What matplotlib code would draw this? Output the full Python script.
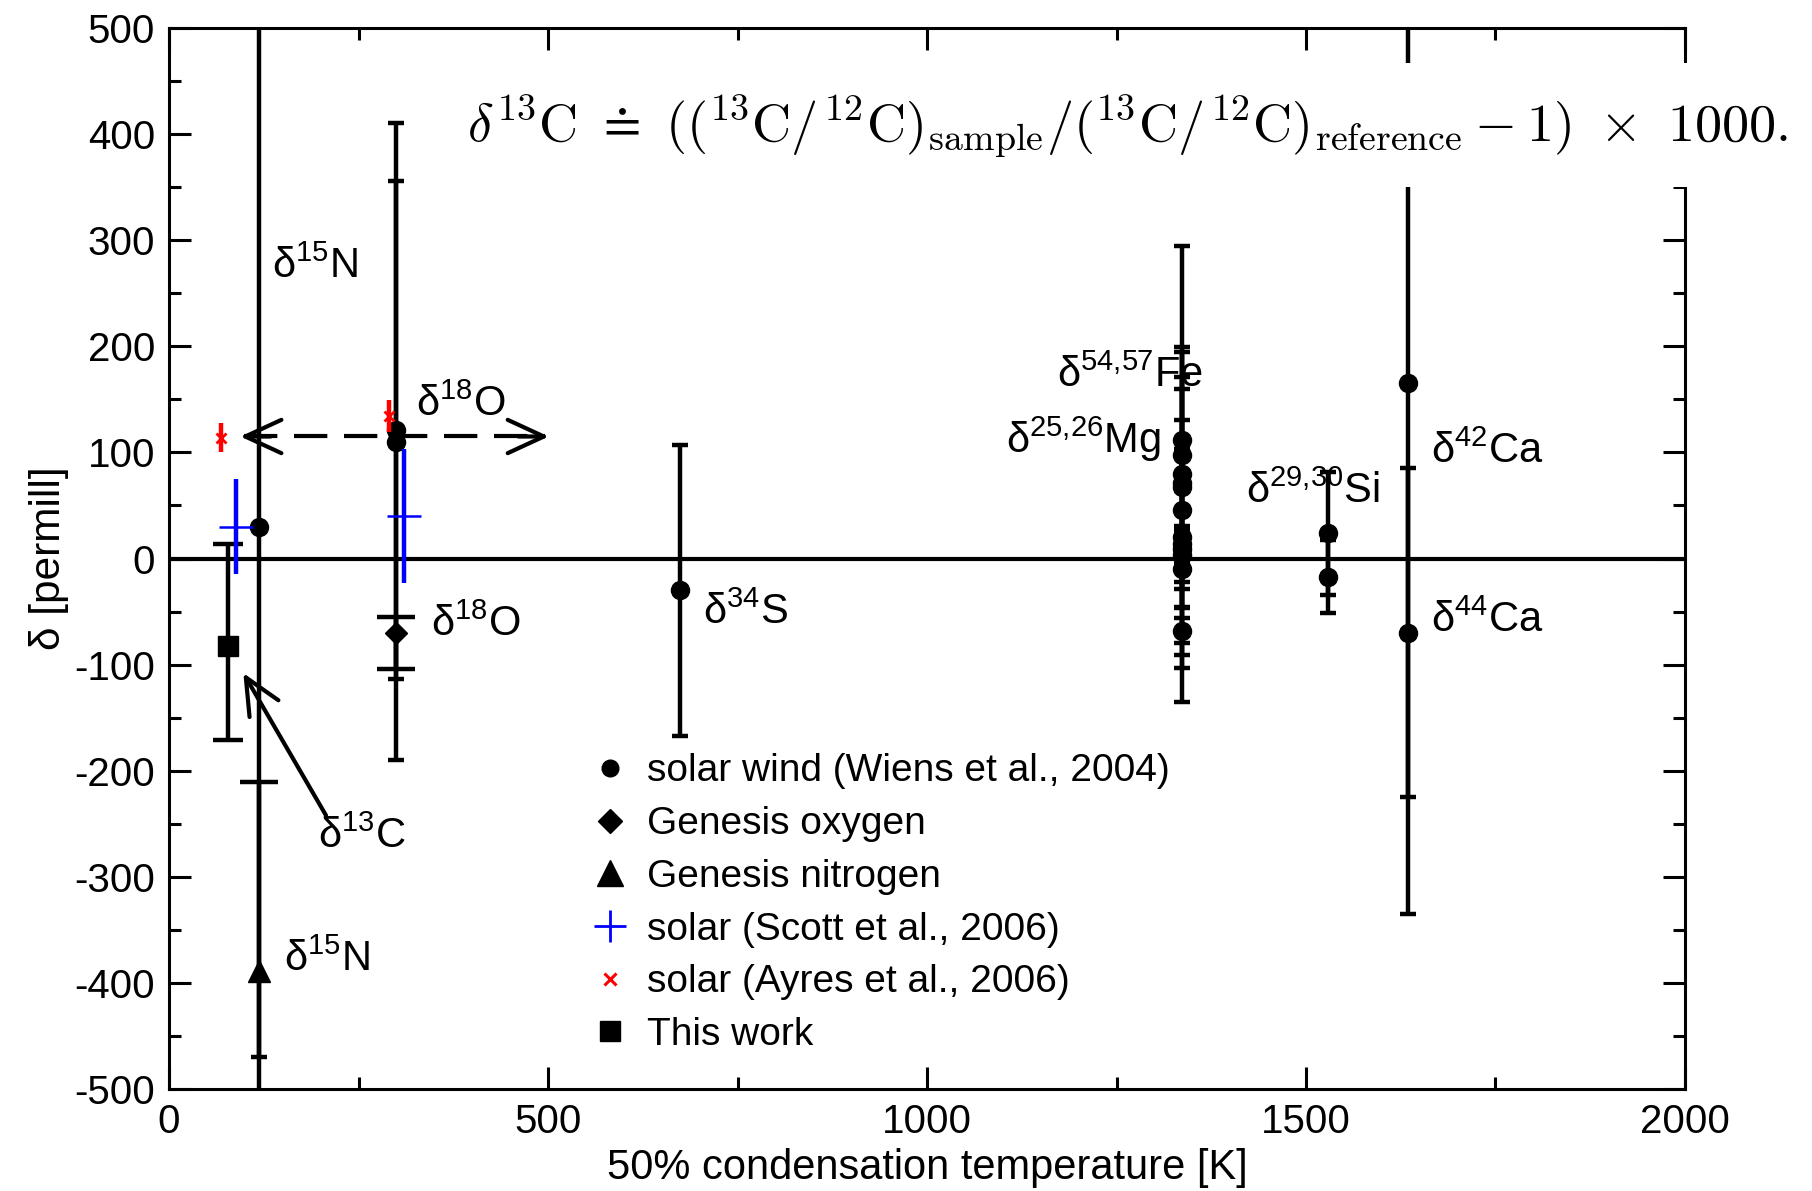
import matplotlib
matplotlib.use("Agg")
import matplotlib.pyplot as plt
from matplotlib.lines import Line2D
from matplotlib.patches import Rectangle
from matplotlib.ticker import MultipleLocator

plt.rcParams["font.family"] = ["Liberation Sans", "DejaVu Sans"]
plt.rcParams["axes.unicode_minus"] = False
plt.rcParams["mathtext.fontset"] = "custom"
plt.rcParams["mathtext.rm"] = "Liberation Sans"

# ---- data: 50% condensation temperature [K] and delta [permill] ----
# solar wind (Wiens et al., 2004): N, O, O, S, Fe/Mg (12 values), Si, Si, Ca42, Ca44
sw_T = [119, 300, 300, 674] + [1336] * 12 + [1529, 1529, 1634, 1634]
sw_d = [30, 121, 110, -30, 112, 98, 80, 71, 67, 46, 20, 14, 9, 3, -10, -68,
        24, -17, 165, -70]
sw_err = [500, 235, 300, 137, 48, 101, 215, 100, 36, 149, 111, 60, 13, 25, 37, 12,
          58, 34, 500, 155]

# Genesis oxygen (asymmetric error: lower, upper)
gox_T = [300]
gox_d = [-70]
gox_err = [[34], [15]]

# Genesis nitrogen
gn_T = [119]
gn_d = [-389]
gn_err = [178]

# solar (Scott et al., 2006): N, O
scott_T = [88, 310]
scott_d = [30, 40]
scott_err = [45, 63]

# solar (Ayres et al., 2006): C, O
ayres_T = [68, 290]
ayres_d = [114, 134]
ayres_err = [14, 15]

# This work (C)
tw_T = [78]
tw_d = [-82]
tw_err = [[89], [96]]

# isotope labels: (text, T, delta)
labels = [
    ("δ$\\mathregular{^{15}}$N", 136, 275),
    ("δ$\\mathregular{^{18}}$O", 326, 145),
    ("δ$\\mathregular{^{18}}$O", 345, -62),
    ("δ$\\mathregular{^{13}}$C", 197, -262),
    ("δ$\\mathregular{^{15}}$N", 151, -378),
    ("δ$\\mathregular{^{34}}$S", 704, -51),
    ("δ$\\mathregular{^{54{,}57}}$Fe", 1172, 172),
    ("δ$\\mathregular{^{25{,}26}}$Mg", 1104, 112),
    ("δ$\\mathregular{^{29{,}30}}$Si", 1421, 63),
    ("δ$\\mathregular{^{42}}$Ca", 1665, 101),
    ("δ$\\mathregular{^{44}}$Ca", 1665, -59),
]

# arrows (annotation geometry)
O_ARROW = (94, 501, 115)            # left tip T, right tip T, delta
C_ARROW = ((207, -242), (98, -108))  # tail, tip

FS = 30
LW = 3.2
NARROW = 5.5
WIDE = 13.5

fig = plt.figure(figsize=(18.12, 11.91), dpi=100)
ax = fig.add_axes([0.0933, 0.0856, 0.8366, 0.8909])

ax.axhline(0, color="black", lw=3, zorder=1)

ebkw = dict(color="black", elinewidth=LW, capthick=LW, ls="none", zorder=3)
ax.errorbar(sw_T, sw_d, yerr=sw_err, fmt="o", ms=13, capsize=NARROW, **ebkw)
ax.errorbar(gox_T, gox_d, yerr=gox_err, fmt="D", ms=11, capsize=WIDE, **ebkw)
ax.errorbar(gn_T, gn_d, yerr=gn_err, fmt="^", ms=16, capsize=WIDE, **ebkw)
ax.errorbar(tw_T, tw_d, yerr=tw_err, fmt="s", ms=14, capsize=11, **ebkw)
ax.errorbar(scott_T, scott_d, yerr=scott_err, fmt="+", ms=25, mew=1.8, color="#0000ff",
            elinewidth=LW, capsize=0, ls="none", zorder=4)
ax.errorbar(ayres_T, ayres_d, yerr=ayres_err, fmt="x", ms=7, mew=2, color="#ff0000",
            elinewidth=LW, capsize=0, ls="none", zorder=4)

# dashed double arrow for oxygen
x0, x1, ya = O_ARROW
ax.plot([x0 + 5, x1 - 5], [ya, ya], color="black", lw=3, dashes=(8, 4), zorder=2)
head = dict(arrowstyle="->,head_length=1.3,head_width=0.6", mutation_scale=20,
            lw=3, color="black", shrinkA=0, shrinkB=0)
ax.annotate("", xy=(x0, ya), xytext=(x0 + 40, ya), arrowprops=head)
ax.annotate("", xy=(x1, ya), xytext=(x1 - 40, ya), arrowprops=head)
# solid arrow pointing to this work
ax.annotate("", xy=C_ARROW[1], xytext=C_ARROW[0], arrowprops=head)

for txt, tx, ty in labels:
    ax.text(tx, ty, txt, fontsize=FS, ha="left", va="center", zorder=2)

ax.set_xlim(0, 2000)
ax.set_ylim(-500, 500)
ax.xaxis.set_major_locator(MultipleLocator(500))
ax.xaxis.set_minor_locator(MultipleLocator(250))
ax.yaxis.set_major_locator(MultipleLocator(100))
ax.yaxis.set_minor_locator(MultipleLocator(50))
ax.tick_params(which="both", direction="in", top=True, right=True, width=2.2,
               labelsize=29)
ax.tick_params(which="major", length=16, pad=10)
ax.tick_params(which="minor", length=8.5)
for s in ax.spines.values():
    s.set_linewidth(2.2)

ax.set_xlabel("50% condensation temperature [K]", fontsize=30, labelpad=5)
ax.set_ylabel("δ [permill]", fontsize=30.5, labelpad=4)

handles = [
    Line2D([], [], ls="none", marker="o", ms=12, color="black"),
    Line2D([], [], ls="none", marker="D", ms=12, color="black"),
    Line2D([], [], ls="none", marker="^", ms=19, color="black"),
    Line2D([], [], ls="none", marker="+", ms=23, mew=2, color="#0000ff"),
    Line2D([], [], ls="none", marker="x", ms=8, mew=2.2, color="#ff0000"),
    Line2D([], [], ls="none", marker="s", ms=14, color="black"),
]
names = ["solar wind (Wiens et al., 2004)", "Genesis oxygen", "Genesis nitrogen",
         "solar (Scott et al., 2006)", "solar (Ayres et al., 2006)", "This work"]
ax.legend(handles, names, loc="upper left", bbox_to_anchor=(0.268, 0.331),
          frameon=False, fontsize=28, handlelength=1.0, handletextpad=0.45,
          labelspacing=0.43, borderaxespad=0)

# definition formula on a white strip
fig.patches.append(Rectangle((0.251, 0.843), 0.76, 0.104, transform=fig.transFigure,
                             facecolor="white", edgecolor="none", zorder=5))
fig.text(0.258, 0.893,
         r"$\delta^{13}\mathrm{C}\ \doteq\ ((^{13}\mathrm{C}/^{12}\mathrm{C})_{\mathrm{sample}}"
         r"/(^{13}\mathrm{C}/^{12}\mathrm{C})_{\mathrm{reference}}-1)\ \times\ 1000.$",
         fontsize=39, math_fontfamily="cm", ha="left", va="center", zorder=6)

fig.savefig("out.png", dpi=100)
